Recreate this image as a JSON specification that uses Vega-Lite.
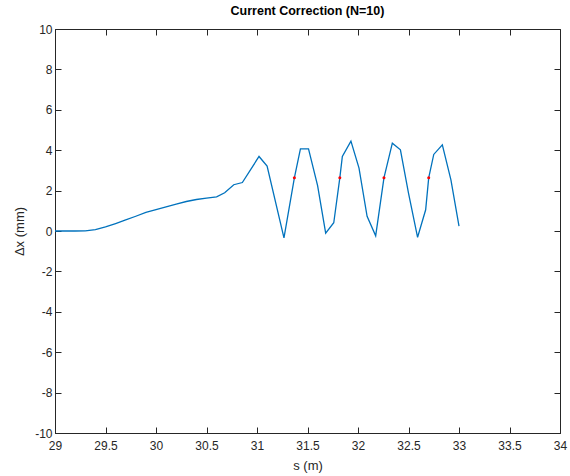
{
  "$schema": "https://vega.github.io/schema/vega-lite/v6.json",
  "width": 505,
  "height": 404,
  "autosize": "none",
  "padding": {"left": 55, "top": 29, "right": 10, "bottom": 43},
  "background": "white",
  "config": {
    "font": "Liberation Sans",
    "view": {"stroke": "#262626", "strokeWidth": 1},
    "axis": {
      "domainColor": "#262626",
      "tickColor": "#262626",
      "labelColor": "#262626",
      "titleColor": "#262626",
      "labelFont": "Liberation Sans",
      "titleFont": "Liberation Sans",
      "labelFontSize": 12,
      "titleFontSize": 13,
      "titleFontWeight": "normal",
      "grid": false,
      "ticks": true,
      "tickWidth": 1,
      "tickSize": -6,
      "labelPadding": 9,
      "labelFlush": false,
      "labelOverlap": false,
      "labelExpr": "replace(datum.label, '−', '-')"
    }
  },
  "title": {
    "text": "Current Correction (N=10)",
    "font": "Liberation Sans",
    "fontSize": 12.5,
    "fontWeight": "bold",
    "color": "#000000",
    "offset": 6
  },
  "datasets": {
    "line": [
      {"s": 29.0, "dx": 0.0},
      {"s": 29.1, "dx": 0.0},
      {"s": 29.2, "dx": 0.0},
      {"s": 29.3, "dx": 0.01},
      {"s": 29.4, "dx": 0.07},
      {"s": 29.5, "dx": 0.2},
      {"s": 29.6, "dx": 0.37},
      {"s": 29.7, "dx": 0.55},
      {"s": 29.8, "dx": 0.73},
      {"s": 29.9, "dx": 0.92},
      {"s": 30.0, "dx": 1.06},
      {"s": 30.1, "dx": 1.2},
      {"s": 30.2, "dx": 1.33},
      {"s": 30.3, "dx": 1.46},
      {"s": 30.4, "dx": 1.56},
      {"s": 30.5, "dx": 1.63},
      {"s": 30.6, "dx": 1.69},
      {"s": 30.68, "dx": 1.89},
      {"s": 30.77, "dx": 2.29},
      {"s": 30.855, "dx": 2.4},
      {"s": 31.02, "dx": 3.69},
      {"s": 31.1, "dx": 3.21},
      {"s": 31.267, "dx": -0.34},
      {"s": 31.37, "dx": 2.63},
      {"s": 31.43, "dx": 4.07},
      {"s": 31.51, "dx": 4.07},
      {"s": 31.6, "dx": 2.25},
      {"s": 31.68, "dx": -0.11},
      {"s": 31.76, "dx": 0.41},
      {"s": 31.82, "dx": 2.63},
      {"s": 31.845, "dx": 3.69},
      {"s": 31.93, "dx": 4.45},
      {"s": 32.01, "dx": 3.11},
      {"s": 32.09, "dx": 0.73},
      {"s": 32.175, "dx": -0.24},
      {"s": 32.257, "dx": 2.63},
      {"s": 32.34, "dx": 4.35},
      {"s": 32.42, "dx": 4.02},
      {"s": 32.5, "dx": 1.87},
      {"s": 32.59, "dx": -0.31},
      {"s": 32.67, "dx": 1.05},
      {"s": 32.7, "dx": 2.63},
      {"s": 32.75, "dx": 3.79},
      {"s": 32.835, "dx": 4.27},
      {"s": 32.92, "dx": 2.53},
      {"s": 33.0, "dx": 0.24}
    ],
    "dots": [
      {"s": 31.37, "dx": 2.63},
      {"s": 31.82, "dx": 2.63},
      {"s": 32.257, "dx": 2.63},
      {"s": 32.7, "dx": 2.63}
    ]
  },
  "layer": [
    {
      "data": {"name": "line"},
      "mark": {"type": "line", "color": "#0072BD", "strokeWidth": 1.3, "clip": true},
      "encoding": {
        "x": {
          "field": "s", "type": "quantitative",
          "scale": {"domain": [29, 34], "nice": false, "zero": false},
          "axis": {"title": "s (m)", "values": [29, 29.5, 30, 30.5, 31, 31.5, 32, 32.5, 33, 33.5, 34], "format": "~g", "labelPadding": 13, "titlePadding": 8}
        },
        "y": {
          "field": "dx", "type": "quantitative",
          "scale": {"domain": [-10, 10], "nice": false},
          "axis": {"title": "Δx (mm)", "values": [-10, -8, -6, -4, -2, 0, 2, 4, 6, 8, 10], "titlePadding": 8}
        }
      }
    },
    {
      "data": {"name": "dots"},
      "mark": {"type": "point", "filled": true, "color": "#FF0000", "size": 9, "opacity": 1},
      "encoding": {
        "x": {
          "field": "s", "type": "quantitative",
          "scale": {"domain": [29, 34], "nice": false, "zero": false},
          "axis": {"orient": "top", "labels": false, "title": null, "domain": false, "values": [29, 29.5, 30, 30.5, 31, 31.5, 32, 32.5, 33, 33.5, 34]}
        },
        "y": {
          "field": "dx", "type": "quantitative",
          "scale": {"domain": [-10, 10], "nice": false},
          "axis": {"orient": "right", "labels": false, "title": null, "domain": false, "values": [-10, -8, -6, -4, -2, 0, 2, 4, 6, 8, 10]}
        }
      }
    }
  ],
  "resolve": {"axis": {"x": "independent", "y": "independent"}}
}
